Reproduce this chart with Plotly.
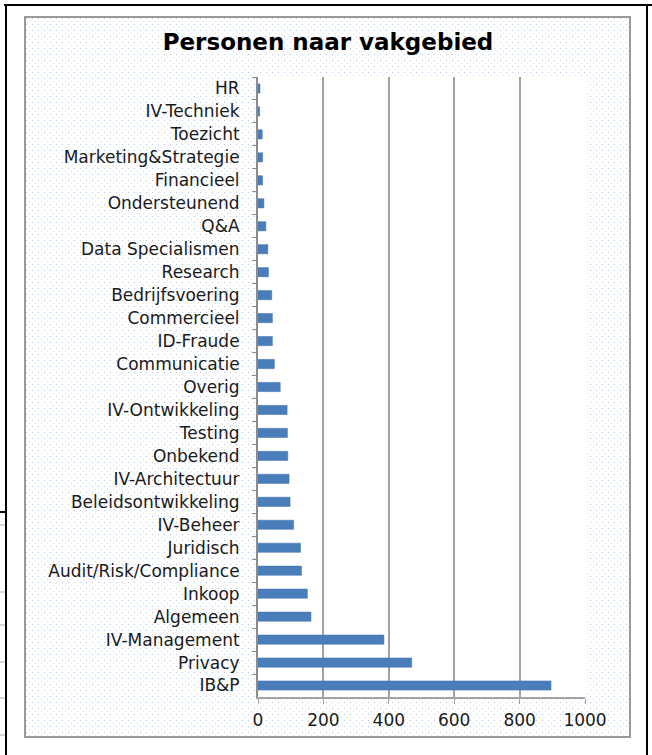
import base64
import plotly.graph_objects as go

# categories top to bottom, as shown in the chart
categories = [
    "HR", "IV-Techniek", "Toezicht", "Marketing&Strategie", "Financieel",
    "Ondersteunend", "Q&A", "Data Specialismen", "Research", "Bedrijfsvoering",
    "Commercieel", "ID-Fraude", "Communicatie", "Overig", "IV-Ontwikkeling",
    "Testing", "Onbekend", "IV-Architectuur", "Beleidsontwikkeling", "IV-Beheer",
    "Juridisch", "Audit/Risk/Compliance", "Inkoop", "Algemeen", "IV-Management",
    "Privacy", "IB&P",
]
personen = [
    6, 5, 13, 14, 14,
    18, 24, 30, 32, 42,
    44, 44, 50, 68, 89,
    90, 91, 95, 98, 109,
    130, 133, 151, 162, 385,
    470, 896,
]
x_ticks = [0, 200, 400, 600, 800, 1000]

title = "Personen naar vakgebied"

W, H = 652, 755
ML, MR, MT, MB = 258, 67, 77, 58
PW, PH = W - ML - MR, H - MT - MB


def px_x(px):
    # pixel column -> paper x
    return (px - ML) / PW


def px_y(py):
    # pixel row -> paper y
    return (H - MB - py) / PH


# dotted background of the chart frame
dots = (
    '<svg xmlns="http://www.w3.org/2000/svg" width="605" height="720">'
    '<defs><pattern id="d" width="6" height="6" patternUnits="userSpaceOnUse">'
    '<circle cx="1.5" cy="1.5" r="0.6" fill="#a9c0e3"/>'
    '<circle cx="4.5" cy="4.5" r="0.55" fill="#d2def0"/>'
    '</pattern></defs>'
    '<rect width="100%" height="100%" fill="white"/>'
    '<rect width="100%" height="100%" fill="url(#d)"/></svg>'
)
dots_uri = "data:image/svg+xml;base64," + base64.b64encode(dots.encode()).decode()

fig = go.Figure()

fig.add_trace(go.Bar(
    x=personen,
    y=categories,
    orientation="h",
    marker=dict(color="#4a7ebb", line=dict(color="#3f6fa8", width=0.5)),
    hoverinfo="x+y",
))

fig.add_layout_image(
    source=dots_uri,
    xref="paper", yref="paper",
    x=px_x(25), y=px_y(17),
    sizex=(630 - 25) / PW, sizey=(737 - 17) / PH,
    xanchor="left", yanchor="top",
    sizing="stretch",
    layer="below",
)

shapes = [
    # white plot area
    dict(type="rect", xref="paper", yref="paper", x0=0, x1=1, y0=0, y1=1,
         fillcolor="white", line_width=0, layer="below"),
    # grey chart frame
    dict(type="rect", xref="paper", yref="paper",
         x0=px_x(25), x1=px_x(630), y0=px_y(737), y1=px_y(17),
         line=dict(color="#9a9a9a", width=2), layer="below"),
    # black border of the surrounding document
    dict(type="line", xref="paper", yref="paper",
         x0=px_x(4), x1=px_x(652), y0=px_y(5), y1=px_y(5),
         line=dict(color="black", width=2), layer="below"),
    dict(type="line", xref="paper", yref="paper",
         x0=px_x(6), x1=px_x(6), y0=px_y(5), y1=px_y(755),
         line=dict(color="black", width=2), layer="below"),
    dict(type="line", xref="paper", yref="paper",
         x0=px_x(647), x1=px_x(647), y0=px_y(5), y1=px_y(755),
         line=dict(color="black", width=2), layer="below"),
    dict(type="line", xref="paper", yref="paper",
         x0=px_x(0), x1=px_x(6), y0=px_y(512), y1=px_y(512),
         line=dict(color="black", width=2), layer="below"),
]
for row_y in [525, 592, 625, 662, 698, 735]:
    shapes.append(dict(type="line", xref="paper", yref="paper",
                       x0=px_x(0), x1=px_x(5), y0=px_y(row_y), y1=px_y(row_y),
                       line=dict(color="#b0b0b0", width=1), layer="below"))

fig.update_layout(
    width=W, height=H,
    margin=dict(l=ML, r=MR, t=MT, b=MB),
    paper_bgcolor="white",
    plot_bgcolor="white",
    showlegend=False,
    bargap=0.6,
    font=dict(family="DejaVu Sans", size=17, color="#1a1a1a"),
    title=dict(
        text=title,
        font=dict(family="DejaVu Sans", size=23, color="black", weight="bold"),
        x=328 / W, xref="container", xanchor="center",
        y=1 - 42 / H, yref="container", yanchor="middle",
    ),
    shapes=shapes,
)

fig.update_xaxes(
    range=[0, 1000],
    tickvals=x_ticks,
    showgrid=True, gridcolor="#a3a3a3", gridwidth=2,
    zeroline=False,
    showline=True, linecolor="#a3a3a3", linewidth=1.5,
    ticks="outside", ticklen=5, tickcolor="#a3a3a3", tickwidth=1,
    ticklabelstandoff=2,
    fixedrange=True,
)
fig.update_yaxes(
    autorange="reversed",
    showgrid=False,
    showline=True, linecolor="#8c8c8c", linewidth=2,
    ticks="outside", ticklen=4, tickcolor="#8c8c8c", tickwidth=1,
    tickson="boundaries",
    ticklabelstandoff=13,
    fixedrange=True,
)

# the page's default body margin would shift the chart by 8px
fig.write_html(
    "out.html",
    config={"displayModeBar": False},
    post_script="document.body.style.margin = '0px';",
)
